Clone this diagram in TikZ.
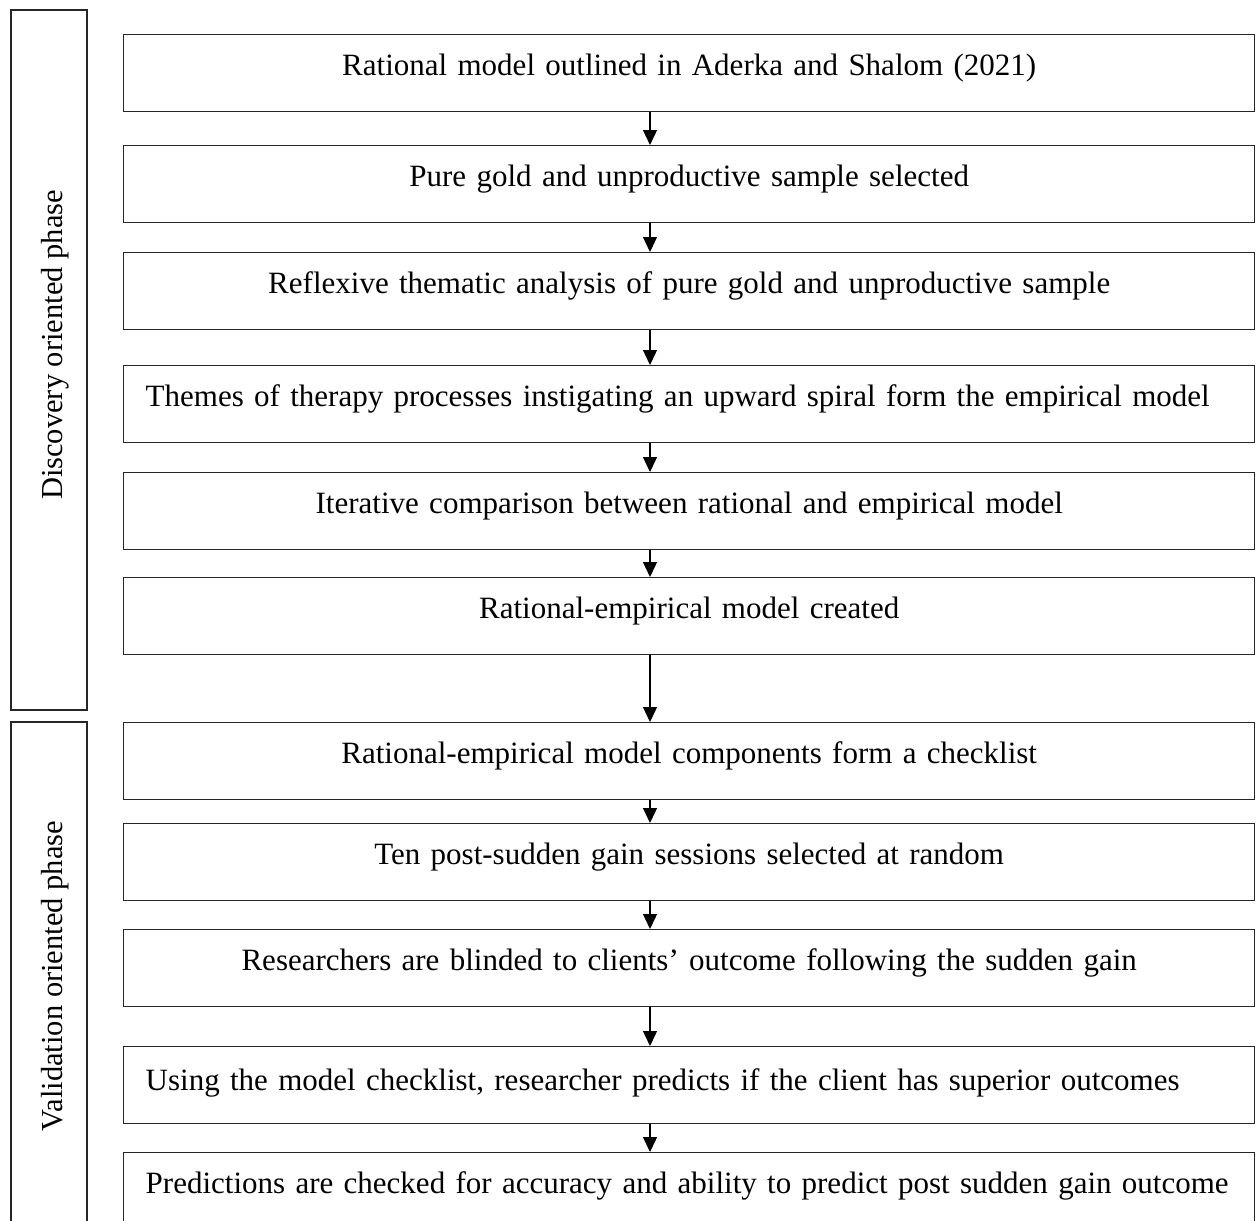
\documentclass[tikz,border=0pt]{standalone}
\usepackage{fontspec}
\setmainfont{Liberation Serif}
\usetikzlibrary{arrows.meta}
\begin{document}
\begin{tikzpicture}[x=1pt,y=-1pt,
  flowbox/.style={draw=black!85, line width=1.4pt, anchor=north west,
    inner xsep=22pt, inner ysep=20pt, text height=21pt, text depth=16pt,
    text width=1087pt, align=center, font=\fontsize{31}{37}\selectfont},
  leftbox/.style={flowbox, align=left},
  phasebox/.style={draw=black!85, line width=1.4pt, minimum width=76pt, inner sep=0pt},
  phaselabel/.style={rotate=90, anchor=base, inner sep=0pt, font=\fontsize{30.5}{36}\selectfont},
  flow/.style={line width=1.3pt, -{Triangle[width=14pt,length=15pt]}}
]
\useasboundingbox (0,0) rectangle (1257,1220);

% phase panels on the left
\node[phasebox, minimum height=700pt] (p1) at (49,360) {};
\node[phasebox, minimum height=540pt] (p2) at (49,992) {};
\node[phaselabel] (l1) at (62,345) {Discovery oriented phase};
\node[phaselabel] (l2) at (62,976) {Validation oriented phase};

% discovery steps
\node[flowbox] (b1) at (123,34)  {Rational model outlined in Aderka and Shalom (2021)};
\node[flowbox] (b2) at (123,145) {Pure gold and unproductive sample selected};
\node[flowbox] (b3) at (123,252) {Reflexive thematic analysis of pure gold and unproductive sample};
\node[leftbox] (b4) at (123,365) {\mbox{Themes of therapy processes instigating an upward spiral form the empirical model}};
\node[flowbox] (b5) at (123,472) {Iterative comparison between rational and empirical model};
\node[flowbox] (b6) at (123,577) {Rational-empirical model created};

% validation steps
\node[flowbox] (b7)  at (123,722)  {Rational-empirical model components form a checklist};
\node[flowbox] (b8)  at (123,823)  {Ten post-sudden gain sessions selected at random};
\node[flowbox] (b9)  at (123,929)  {Researchers are blinded to clients’ outcome following the sudden gain};
\node[leftbox, text height=24pt, text depth=13pt] (b10) at (123,1046) {\mbox{Using the model checklist, researcher predicts if the client has superior outcomes}};
\node[leftbox, text depth=60pt] (b11) at (123,1152) {\mbox{Predictions are checked for accuracy and ability to predict post sudden gain outcome}};

% connectors
\coordinate (ax) at (650,0);
\foreach \a/\b in {b1/b2,b2/b3,b3/b4,b4/b5,b5/b6,b6/b7,b7/b8,b8/b9,b9/b10,b10/b11}
  \draw[flow] (\a.south -| ax) -- (\b.north -| ax);
\end{tikzpicture}
\end{document}
